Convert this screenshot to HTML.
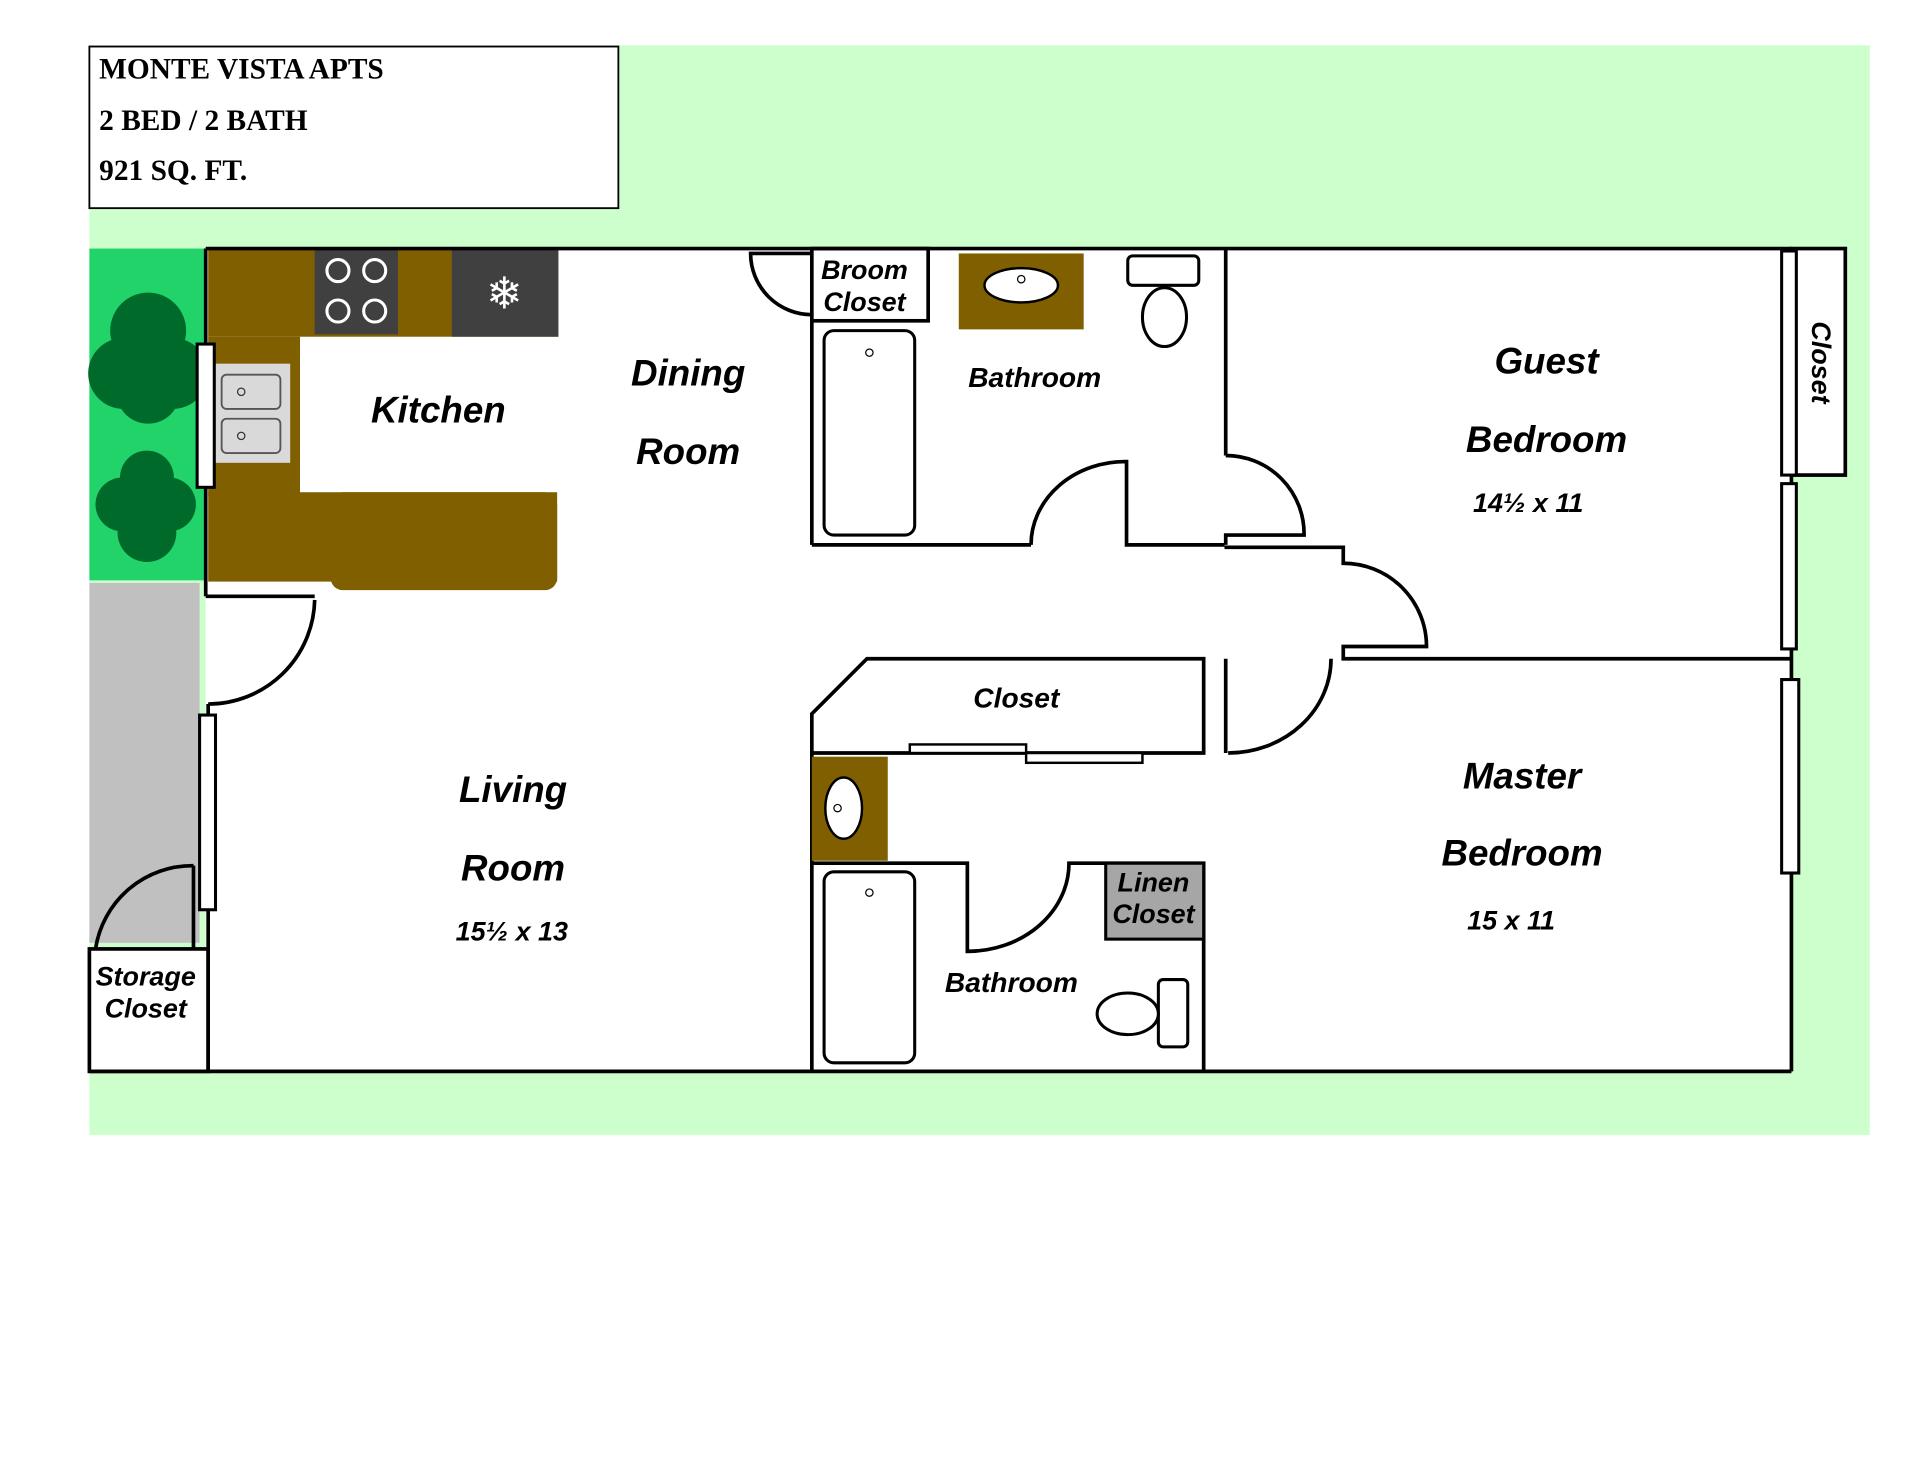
<!DOCTYPE html>
<html><head><meta charset="utf-8"><style>
html,body{margin:0;padding:0;background:#fff;}
svg{display:block;}
.l{font-family:"Liberation Sans",sans-serif;font-weight:bold;font-style:italic;fill:#000;text-anchor:middle;}
.t{font-family:"Liberation Serif",serif;font-weight:bold;font-size:24px;fill:#000;}
</style></head><body>
<svg width="1920" height="1484" viewBox="0 0 1568 1212" preserveAspectRatio="none" xmlns="http://www.w3.org/2000/svg">
<rect x="0" y="0" width="1568" height="1212" fill="#fff"/>
<rect x="73" y="37" width="1454" height="890" fill="#ccffcc"/>
<rect x="73" y="38" width="432" height="132" fill="#fff" stroke="#000" stroke-width="1.5"/>
<text class="t" x="81" y="64">MONTE VISTA APTS</text>
<text class="t" x="81" y="106">2 BED / 2 BATH</text>
<text class="t" x="81" y="147">921 SQ. FT.</text>

<rect x="73" y="203" width="95" height="271" fill="#22d36a"/>
<circle cx="121" cy="270" r="31" fill="#006a2a"/><circle cx="101" cy="305" r="29" fill="#006a2a"/><circle cx="141" cy="305" r="29" fill="#006a2a"/><circle cx="121" cy="320" r="26" fill="#006a2a"/>
<circle cx="120" cy="390" r="22" fill="#006a2a"/><circle cx="100" cy="412" r="22" fill="#006a2a"/><circle cx="138" cy="412" r="22" fill="#006a2a"/><circle cx="120" cy="435" r="24" fill="#006a2a"/>
<rect x="73" y="476" width="90" height="294" fill="#c0c0c0"/>

<rect x="168" y="203" width="1295" height="672" fill="#fff"/>
<rect x="1463" y="203" width="44" height="185" fill="#fff" stroke="#000" stroke-width="3"/>
<rect x="73" y="775" width="97" height="100" fill="#fff" stroke="#000" stroke-width="3"/>

<rect x="170" y="203" width="286" height="72" fill="#7f5f00"/>
<rect x="170" y="275" width="75" height="130" fill="#7f5f00"/>
<rect x="170" y="402" width="285" height="73" fill="#7f5f00"/>
<rect x="270" y="402" width="185" height="80" rx="10" fill="#7f5f00"/>
<rect x="257" y="203" width="68" height="70" fill="#404040"/>
<g fill="none" stroke="#fff" stroke-width="2.5"><circle cx="276" cy="221" r="9"/><circle cx="306" cy="221" r="9"/><circle cx="276" cy="254" r="9"/><circle cx="306" cy="254" r="9"/></g>
<rect x="369" y="203" width="87" height="72" fill="#404040"/>
<text x="412" y="252" font-size="36" fill="#fff" text-anchor="middle" font-family="DejaVu Sans,sans-serif">❄</text>
<rect x="175" y="297" width="62" height="81" fill="#d9d9d9"/>
<rect x="181" y="306" width="48" height="28" rx="4" fill="#d9d9d9" stroke="#555" stroke-width="1.5"/>
<rect x="181" y="342" width="48" height="28" rx="4" fill="#d9d9d9" stroke="#555" stroke-width="1.5"/>
<circle cx="197" cy="320" r="3" fill="none" stroke="#333"/><circle cx="197" cy="356" r="3" fill="none" stroke="#333"/>

<g fill="none" stroke="#000" stroke-width="3">
<line x1="168" y1="203" x2="1463" y2="203"/>
<line x1="73" y1="875" x2="1463" y2="875"/>
<line x1="1463" y1="203" x2="1463" y2="875"/>
<line x1="168" y1="203" x2="168" y2="487"/>
<line x1="170" y1="575" x2="170" y2="875"/>
<line x1="168" y1="487" x2="257" y2="487"/>
<path d="M257,490 A87,87 0 0 1 170,575"/>
<path d="M158,707 A80,80 0 0 0 78,775"/>
<line x1="158" y1="707" x2="158" y2="775"/>
<rect x="663" y="203" width="95" height="59"/>
<path d="M663,257 A50,50 0 0 1 613,207 L663,207"/>
<line x1="663" y1="262" x2="663" y2="445"/>
<line x1="663" y1="445" x2="842" y2="445"/>
<path d="M842,445 A77,68 0 0 1 920,377 L920,445 L1000,445"/>
<line x1="1001" y1="203" x2="1001" y2="372"/>
<path d="M1001,372 A64,64 0 0 1 1065,437 L1001,437 L1001,445"/>
<path d="M1000,447 L1097,447 L1097,460 A68,68 0 0 1 1165,528 L1097,528 L1097,538 L1463,538"/>
<path d="M663,583 L708,538 L983,538 L983,615 L663,615 Z"/>
<line x1="1001" y1="538" x2="1001" y2="615"/>
<path d="M1003,615 A84,77 0 0 0 1087,538"/>
<line x1="663" y1="615" x2="663" y2="875"/>
<path d="M663,705 L790,705 L790,777 A83,72 0 0 0 873,705 L983,705 L983,875"/>
</g>
<rect x="743" y="608" width="95" height="7" fill="#fff" stroke="#000" stroke-width="2"/>
<rect x="838" y="615" width="95" height="8" fill="#fff" stroke="#000" stroke-width="2"/>
<g fill="#fff" stroke="#000" stroke-width="2.5">
<rect x="161" y="281" width="14" height="117"/>
<rect x="163" y="584" width="13" height="159"/>
<rect x="1455" y="205" width="12" height="183"/>
<rect x="1455" y="395" width="12" height="135"/>
<rect x="1455" y="555" width="14" height="158"/>
</g>
<rect x="783" y="207" width="102" height="62" fill="#7f5f00"/>
<ellipse cx="834" cy="233" rx="30" ry="14" fill="#fff" stroke="#000" stroke-width="2"/>
<circle cx="834" cy="228" r="3" fill="none" stroke="#000"/>
<rect x="921" y="209" width="58" height="24" rx="4" fill="#fff" stroke="#000" stroke-width="2.5"/>
<ellipse cx="951" cy="259" rx="18" ry="24" fill="#fff" stroke="#000" stroke-width="2.5"/>
<rect x="673" y="270" width="74" height="167" rx="8" fill="#fff" stroke="#000" stroke-width="2.5"/>
<circle cx="710" cy="288" r="3" fill="none" stroke="#000"/>
<rect x="663" y="618" width="62" height="85" fill="#7f5f00"/>
<ellipse cx="689" cy="660" rx="15" ry="25" fill="#fff" stroke="#000" stroke-width="2"/>
<circle cx="684" cy="660" r="3" fill="none" stroke="#000"/>
<rect x="673" y="712" width="74" height="156" rx="8" fill="#fff" stroke="#000" stroke-width="2.5"/>
<circle cx="710" cy="729" r="3" fill="none" stroke="#000"/>
<rect x="903" y="705" width="80" height="62" fill="#a6a6a6" stroke="#000" stroke-width="2.5"/>
<rect x="946" y="800" width="24" height="55" rx="4" fill="#fff" stroke="#000" stroke-width="2.5"/>
<ellipse cx="921" cy="828" rx="25" ry="17" fill="#fff" stroke="#000" stroke-width="2.5"/>

<text class="l" x="358" y="345" font-size="30">Kitchen</text>
<text class="l" x="562" y="315" font-size="30">Dining</text>
<text class="l" x="562" y="379" font-size="30">Room</text>
<text class="l" x="706" y="228" font-size="22">Broom</text>
<text class="l" x="706" y="254" font-size="22">Closet</text>
<text class="l" x="845" y="316" font-size="23">Bathroom</text>
<text class="l" x="1263" y="305" font-size="30">Guest</text>
<text class="l" x="1263" y="369" font-size="30">Bedroom</text>
<text class="l" x="1248" y="418" font-size="22">14½ x 11</text>
<text class="l" font-size="22" transform="translate(1480,296) rotate(90)">Closet</text>
<text class="l" x="830" y="578" font-size="23">Closet</text>
<text class="l" x="419" y="655" font-size="30">Living</text>
<text class="l" x="419" y="719" font-size="30">Room</text>
<text class="l" x="418" y="768" font-size="22">15½ x 13</text>
<text class="l" x="1243" y="644" font-size="30">Master</text>
<text class="l" x="1243" y="707" font-size="30">Bedroom</text>
<text class="l" x="1234" y="759" font-size="22">15 x 11</text>
<text class="l" x="826" y="810" font-size="23">Bathroom</text>
<text class="l" x="942" y="728" font-size="22">Linen</text>
<text class="l" x="942" y="754" font-size="22">Closet</text>
<text class="l" x="119" y="805" font-size="22">Storage</text>
<text class="l" x="119" y="831" font-size="22">Closet</text>
</svg>
</body></html>
